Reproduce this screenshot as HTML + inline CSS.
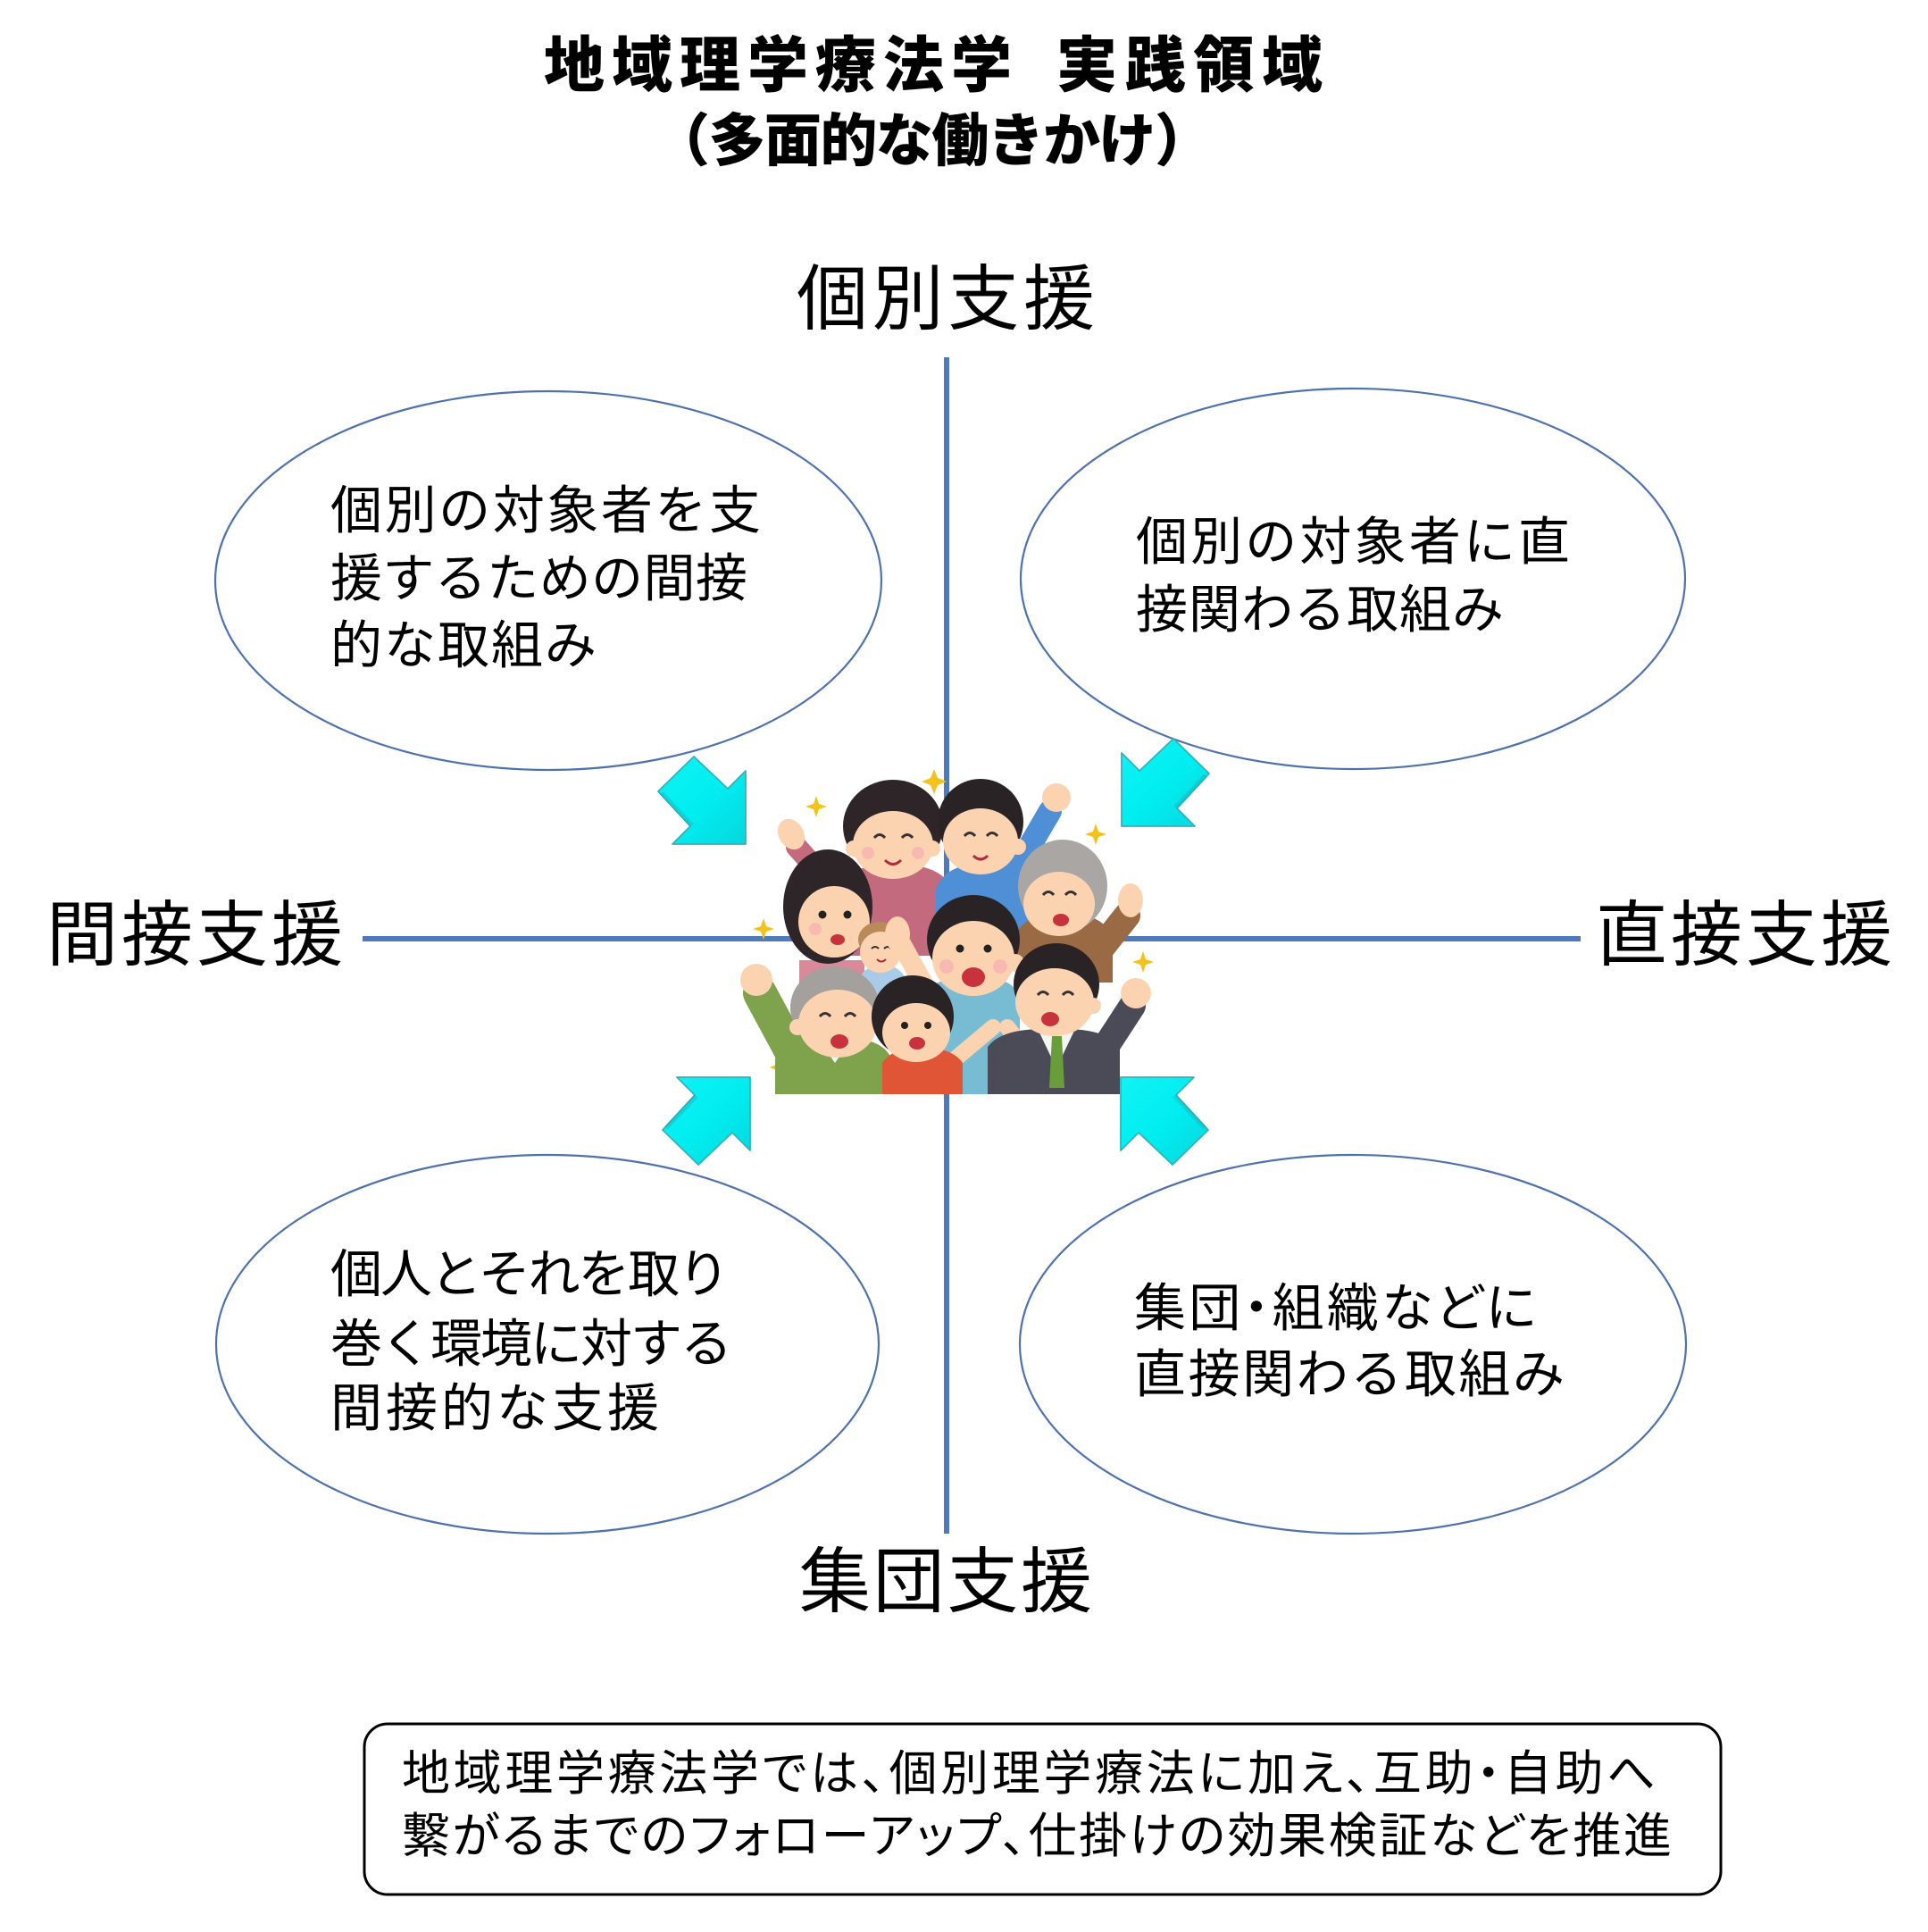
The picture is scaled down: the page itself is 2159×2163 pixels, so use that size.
<!DOCTYPE html>
<html>
<head>
<meta charset="utf-8">
<style>
html,body{margin:0;padding:0;background:#fff;}
svg{display:block;}
text{font-family:"Liberation Sans","Noto Sans CJK JP",sans-serif;fill:#000;}
.p{font-feature-settings:"palt";}
</style>
</head>
<body>
<svg width="2159" height="2163" viewBox="0 0 2159 2163" xmlns="http://www.w3.org/2000/svg">
<defs>
  <filter id="sh" x="-5%" y="-50%" width="110%" height="200%"><feGaussianBlur stdDeviation="2.5"/></filter>
  <linearGradient id="ag" x1="0" y1="0" x2="1" y2="1">
    <stop offset="0" stop-color="#12f2f4"/>
    <stop offset="0.5" stop-color="#00eef0"/>
    <stop offset="1" stop-color="#08d6de"/>
  </linearGradient>
</defs>
<rect width="2159" height="2163" fill="#fff"/>

<!-- Title -->
<text x="609" y="74" font-size="68" font-weight="900" dominant-baseline="central" textLength="524" lengthAdjust="spacing">地域理学療法学</text>
<text x="1183" y="74" font-size="68" font-weight="900" dominant-baseline="central" textLength="298" lengthAdjust="spacing">実践領域</text>
<text x="731" y="158" font-size="64" font-weight="900" dominant-baseline="central" textLength="626" lengthAdjust="spacing">（多面的な働きかけ）</text>

<!-- Axis labels -->
<text x="892" y="335" font-size="80" dominant-baseline="central" textLength="334" lengthAdjust="spacing">個別支援</text>
<text x="52" y="1047" font-size="80" dominant-baseline="central" textLength="332" lengthAdjust="spacing">間接支援</text>
<text x="1787" y="1047" font-size="80" dominant-baseline="central" textLength="332" lengthAdjust="spacing">直接支援</text>
<text x="895" y="1771" font-size="80" dominant-baseline="central" textLength="328" lengthAdjust="spacing">集団支援</text>

<!-- Axis lines with soft shadow -->
<line x1="406" y1="1054" x2="1770" y2="1054" stroke="#b8bcc4" stroke-width="6" filter="url(#sh)" opacity="0.7"/>
<line x1="1063" y1="400" x2="1063" y2="1717" stroke="#b8bcc4" stroke-width="6" filter="url(#sh)" opacity="0.6"/>
<line x1="406" y1="1051" x2="1770" y2="1051" stroke="#4f7ab9" stroke-width="6"/>
<line x1="1060" y1="400" x2="1060" y2="1717" stroke="#4f7ab9" stroke-width="6"/>

<!-- Ellipses -->
<ellipse cx="614" cy="650" rx="373" ry="212" fill="#fff" stroke="#4f72ad" stroke-width="2.2"/>
<ellipse cx="1515" cy="648" rx="372" ry="213" fill="#fff" stroke="#4f72ad" stroke-width="2.2"/>
<ellipse cx="613" cy="1505" rx="371" ry="212" fill="#fff" stroke="#4f72ad" stroke-width="2.2"/>
<ellipse cx="1515" cy="1505" rx="373" ry="212" fill="#fff" stroke="#4f72ad" stroke-width="2.2"/>

<!-- Ellipse texts -->
<g font-size="58">
  <text x="370" y="572" dominant-baseline="central" textLength="482" lengthAdjust="spacing">個別の対象者を支</text>
  <text x="370" y="648" dominant-baseline="central" textLength="467" lengthAdjust="spacing">援するための間接</text>
  <text x="370" y="723" dominant-baseline="central" textLength="298" lengthAdjust="spacing">的な取組み</text>

  <text x="1272" y="607" dominant-baseline="central" textLength="486" lengthAdjust="spacing">個別の対象者に直</text>
  <text x="1272" y="683" dominant-baseline="central" textLength="412" lengthAdjust="spacing">接関わる取組み</text>

  <text x="370" y="1427" dominant-baseline="central" textLength="447" lengthAdjust="spacing">個人とそれを取り</text>
  <text x="370" y="1505" dominant-baseline="central" textLength="450" lengthAdjust="spacing">巻く環境に対する</text>
  <text x="370" y="1577" dominant-baseline="central" textLength="368" lengthAdjust="spacing">間接的な支援</text>

  <text class="p" x="1270" y="1465" dominant-baseline="central" textLength="450" lengthAdjust="spacing">集団・組織などに</text>
  <text x="1270" y="1539" dominant-baseline="central" textLength="482" lengthAdjust="spacing">直接関わる取組み</text>
</g>

<!-- Arrows -->
<g fill="url(#ag)" stroke="#34b2bd" stroke-width="1.8" stroke-linejoin="round">
  <polygon points="777,847 815,883 835,863 835,945 753,945 773,925 737,886"/>
  <polygon points="1314,827 1276,863 1256,843 1256,925 1338,925 1318,905 1354,866"/>
  <polygon points="782,1304 820,1268 840,1288 840,1206 758,1206 778,1226 742,1265"/>
  <polygon points="1313,1304 1275,1268 1255,1288 1255,1206 1337,1206 1317,1226 1353,1265"/>
</g>
<g fill="none" stroke="#1aa9b4" stroke-width="5" opacity="0.35">
  <polyline points="741,888 775,924"/>
  <polyline points="1350,868 1316,904"/>
  <polyline points="746,1263 780,1227"/>
  <polyline points="1349,1263 1315,1227"/>
</g>

<!-- Illustration: cheering family -->
<g>
  <g fill="#f3c21b">
    <path d="M1046,861 L1050,871 L1060,875 L1050,879 L1046,889 L1042,879 L1032,875 L1042,871 Z"/>
    <path d="M914,891 L917,900 L926,903 L917,906 L914,915 L911,906 L902,903 L911,900 Z"/>
    <path d="M1227,922 L1230,931 L1239,934 L1230,937 L1227,946 L1224,937 L1215,934 L1224,931 Z"/>
    <path d="M855,1028 L858,1037 L867,1040 L858,1043 L855,1052 L852,1043 L843,1040 L852,1037 Z"/>
    <path d="M1280,1065 L1283,1074 L1292,1077 L1283,1080 L1280,1089 L1277,1080 L1268,1077 L1277,1074 Z"/>
    <path d="M872,1185 L875,1192 L882,1195 L875,1198 L872,1205 L869,1198 L862,1195 L869,1192 Z"/>
    <path d="M1236,1191 L1239,1198 L1246,1201 L1239,1204 L1236,1211 L1233,1204 L1226,1201 L1233,1198 Z"/>
  </g>

  <!-- Mother (pink) -->
  <line x1="925" y1="985" x2="892" y2="948" stroke="#c46a7e" stroke-width="24" stroke-linecap="round"/>
  <ellipse cx="886" cy="934" rx="14" ry="18" fill="#fcd3b1" transform="rotate(-30 886 934)"/>
  <path d="M925,1005 Q940,968 1000,968 Q1058,966 1068,1000 L1068,1070 L925,1070 Z" fill="#c46a7e"/>
  <ellipse cx="1000" cy="925" rx="56" ry="52" fill="#2e2528"/>
  <ellipse cx="1000" cy="946" rx="45" ry="38" fill="#fcd3b1"/>
  <circle cx="956" cy="950" r="9" fill="#fcd3b1"/>
  <circle cx="1044" cy="950" r="9" fill="#fcd3b1"/>
  <path d="M979,938 q6,-7 12,0 M1010,938 q6,-7 12,0" stroke="#333" stroke-width="3" fill="none"/>
  <path d="M991,963 q9,9 18,0" stroke="#b02a3a" stroke-width="3" fill="none"/>
  <circle cx="972" cy="955" r="7" fill="#f6aeb0" opacity="0.7"/>
  <circle cx="1028" cy="955" r="7" fill="#f6aeb0" opacity="0.7"/>

  <!-- Boy (blue) -->
  <line x1="1128" y1="990" x2="1176" y2="908" stroke="#4f8fd6" stroke-width="26" stroke-linecap="round"/>
  <circle cx="1183" cy="893" r="16" fill="#fcd3b1"/>
  <path d="M1048,995 Q1060,966 1100,968 Q1142,966 1152,995 L1152,1055 L1048,1055 Z" fill="#4f8fd6"/>
  <ellipse cx="1098" cy="920" rx="48" ry="48" fill="#2a2326"/>
  <ellipse cx="1098" cy="942" rx="42" ry="37" fill="#fcd3b1"/>
  <circle cx="1140" cy="948" r="9" fill="#fcd3b1"/>
  <path d="M1080,936 q6,-7 12,0 M1105,936 q6,-7 12,0" stroke="#333" stroke-width="3" fill="none"/>
  <path d="M1090,958 q8,8 16,0" stroke="#b02a3a" stroke-width="3" fill="none"/>

  <!-- Grandma -->
  <line x1="1228" y1="1068" x2="1262" y2="1025" stroke="#9a6a45" stroke-width="30" stroke-linecap="round"/>
  <ellipse cx="1266" cy="1008" rx="14" ry="19" fill="#fcd3b1"/>
  <path d="M1138,1045 Q1150,1022 1190,1022 Q1236,1022 1246,1050 L1246,1100 L1138,1100 Z" fill="#9a6a45"/>
  <ellipse cx="1190" cy="992" rx="50" ry="52" fill="#a9a6a3"/>
  <ellipse cx="1186" cy="1012" rx="40" ry="36" fill="#fcd3b1"/>
  <path d="M1168,1002 q6,-7 12,0 M1193,1002 q6,-7 12,0" stroke="#333" stroke-width="3" fill="none"/>
  <ellipse cx="1188" cy="1030" rx="9" ry="7" fill="#c8323c"/>

  <!-- Young woman -->
  <path d="M895,1075 L968,1075 L968,1120 L895,1120 Z" fill="#d9899a"/>
  <ellipse cx="927" cy="1015" rx="50" ry="64" fill="#2e2528"/>
  <ellipse cx="934" cy="1032" rx="40" ry="40" fill="#fcd3b1"/>
  <circle cx="921" cy="1024" r="4.5" fill="#222"/>
  <circle cx="949" cy="1024" r="4.5" fill="#222"/>
  <ellipse cx="938" cy="1052" rx="8" ry="6" fill="#c8323c"/>
  <circle cx="913" cy="1040" r="7" fill="#f6aeb0" opacity="0.7"/>

  <!-- Baby -->
  <ellipse cx="988" cy="1102" rx="27" ry="22" fill="#a8cbe8"/>
  <ellipse cx="985" cy="1052" rx="24" ry="20" fill="#b98a5a"/>
  <circle cx="986" cy="1066" r="23" fill="#fcd3b1"/>
  <path d="M976,1062 q4,-4 8,0 M990,1062 q4,-4 8,0" stroke="#333" stroke-width="2" fill="none"/>
  <path d="M982,1074 q5,5 10,0" stroke="#b02a3a" stroke-width="2" fill="none"/>

  <!-- Young man -->
  <line x1="1040" y1="1112" x2="1010" y2="1058" stroke="#fcd3b1" stroke-width="22" stroke-linecap="round"/>
  <ellipse cx="1005" cy="1046" rx="14" ry="20" fill="#fcd3b1"/>
  <path d="M1033,1115 Q1048,1092 1090,1094 Q1132,1092 1142,1115 L1142,1225 L1033,1225 Z" fill="#78bcd4"/>
  <ellipse cx="1090" cy="1052" rx="52" ry="50" fill="#2a2326"/>
  <ellipse cx="1090" cy="1073" rx="46" ry="42" fill="#fcd3b1"/>
  <circle cx="1137" cy="1078" r="10" fill="#fcd3b1"/>
  <circle cx="1075" cy="1062" r="4.5" fill="#222"/>
  <circle cx="1106" cy="1062" r="4.5" fill="#222"/>
  <ellipse cx="1090" cy="1094" rx="13" ry="11" fill="#c8323c"/>
  <circle cx="1060" cy="1082" r="8" fill="#f6aeb0" opacity="0.7"/>
  <circle cx="1120" cy="1082" r="8" fill="#f6aeb0" opacity="0.7"/>
  <line x1="1128" y1="1150" x2="1150" y2="1178" stroke="#fcd3b1" stroke-width="18" stroke-linecap="round"/>

  <!-- Grandpa -->
  <line x1="892" y1="1188" x2="851" y2="1112" stroke="#7fa24d" stroke-width="38" stroke-linecap="round"/>
  <circle cx="847" cy="1097" r="18" fill="#fcd3b1"/>
  <path d="M868,1185 Q884,1160 935,1162 Q988,1160 998,1185 L998,1225 L868,1225 Z" fill="#7fa24d"/>
  <polygon points="918,1166 952,1166 935,1190" fill="#f4f4f4"/>
  <ellipse cx="935" cy="1128" rx="50" ry="46" fill="#a3a09e"/>
  <ellipse cx="938" cy="1146" rx="44" ry="38" fill="#fcd3b1"/>
  <circle cx="893" cy="1150" r="9" fill="#fcd3b1"/>
  <path d="M918,1138 q6,-7 12,0 M946,1138 q6,-7 12,0" stroke="#333" stroke-width="3" fill="none"/>
  <ellipse cx="940" cy="1166" rx="10" ry="8" fill="#c8323c"/>

  <!-- Girl -->
  <line x1="1062" y1="1192" x2="1112" y2="1150" stroke="#fcd3b1" stroke-width="18" stroke-linecap="round"/>
  <path d="M988,1190 Q1000,1172 1030,1173 Q1066,1172 1078,1190 L1078,1225 L988,1225 Z" fill="#e05535"/>
  <ellipse cx="1030" cy="1180" rx="19" ry="7" fill="#fff"/>
  <ellipse cx="1022" cy="1138" rx="46" ry="46" fill="#2a2326"/>
  <ellipse cx="1026" cy="1156" rx="38" ry="33" fill="#fcd3b1"/>
  <circle cx="1013" cy="1148" r="4" fill="#222"/>
  <circle cx="1039" cy="1148" r="4" fill="#222"/>
  <ellipse cx="1027" cy="1168" rx="9" ry="7" fill="#c8323c"/>

  <!-- Man in suit -->
  <line x1="1238" y1="1172" x2="1268" y2="1126" stroke="#4b4b58" stroke-width="30" stroke-linecap="round"/>
  <circle cx="1272" cy="1112" r="17" fill="#fcd3b1"/>
  <path d="M1106,1172 Q1122,1150 1180,1152 Q1238,1150 1254,1172 L1254,1225 L1106,1225 Z" fill="#4b4b58"/>
  <polygon points="1163,1154 1203,1154 1183,1196" fill="#f4f4f4"/>
  <polygon points="1178,1160 1189,1160 1192,1218 1175,1218" fill="#6a9c3a"/>
  <ellipse cx="1183" cy="1102" rx="48" ry="46" fill="#2a2326"/>
  <ellipse cx="1181" cy="1122" rx="44" ry="38" fill="#fcd3b1"/>
  <circle cx="1224" cy="1126" r="9" fill="#fcd3b1"/>
  <path d="M1162,1114 q6,-7 12,0 M1190,1114 q6,-7 12,0" stroke="#333" stroke-width="3" fill="none"/>
  <ellipse cx="1176" cy="1141" rx="10" ry="8" fill="#c8323c"/>
</g>

<!-- Bottom note box -->
<rect x="408" y="1930" width="1519" height="191" rx="26" ry="26" fill="#fff" stroke="#000" stroke-width="3"/>
<text class="p" x="450" y="1986" font-size="54" dominant-baseline="central" textLength="1404" lengthAdjust="spacing">地域理学療法学では、個別理学療法に加え、互助・自助へ</text>
<text class="p" x="450" y="2056" font-size="54" dominant-baseline="central" textLength="1422" lengthAdjust="spacing">繋がるまでのフォローアップ、仕掛けの効果検証などを推進</text>
</svg>
</body>
</html>
